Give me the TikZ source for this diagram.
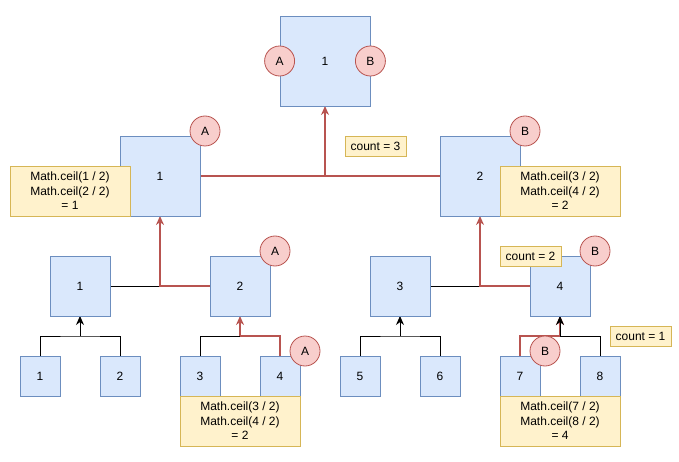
\documentclass[tikz,border=0pt]{standalone}
\usepackage{fontspec}
\setmainfont{Liberation Sans}
\usetikzlibrary{arrows.meta,positioning}
\definecolor{cellfill}{HTML}{DAE8FC}
\definecolor{cellline}{HTML}{6C8EBF}
\definecolor{notefill}{HTML}{FFF2CC}
\definecolor{noteline}{HTML}{D6B656}
\definecolor{markfill}{HTML}{F8CECC}
\definecolor{markline}{HTML}{B85450}

\begin{document}
\begin{tikzpicture}
[x=1pt, y=-1pt, font=\fontsize{12}{14.5}\selectfont,
% STYLES
% cells of the tree, one size per level
cell/.style={rectangle, draw=cellline, fill=cellfill, inner sep=0pt, line width=0.8pt},
rootcell/.style={cell, minimum size=90pt},
bigcell/.style={cell, minimum size=80pt},
midcell/.style={cell, minimum size=60pt},
leafcell/.style={cell, minimum size=40pt},
% the A / B markers
badge/.style={circle, draw=markline, fill=markfill, minimum size=30pt, inner sep=0pt, line width=0.8pt},
% yellow notes
note/.style={rectangle, draw=noteline, fill=notefill, inner sep=0pt, line width=0.8pt, align=center},
sumnote/.style={note, minimum width=120pt, minimum height=50pt},
countnote/.style={note, minimum width=61pt, minimum height=20pt},
% links
link/.style={line width=0.8pt, black},
hot/.style={line width=2pt, markline},
tip/.style={-{Stealth[length=9pt, width=8pt]}}]

\useasboundingbox (0,0) rectangle (679,462);

% Draw links
\coordinate (j1) at (80,336);
\coordinate (j2) at (240,336);
\coordinate (j3) at (400,336);
\coordinate (j4) at (560,336);

\draw[hot] (200,176) -- (440,176);
\draw[hot, tip] (325,176) -- (325,106);
\draw[link] (110,286) -- (160,286);
\draw[hot, tip] (210,286) -| (160,216);
\draw[link] (431,286) -- (480,286);
\draw[hot, tip] (530,286) -| (480,216);

\draw[link] (40,356) |- (j1) -| (120,356);
\draw[link, tip] (j1) -- (80,316);
\draw[link] (200,356) |- (j2);
\draw[hot] (280,356) |- (j2);
\draw[hot, tip] (j2) -- (240,316);
\draw[link] (360,356) |- (j3) -| (440,356);
\draw[link, tip] (j3) -- (400,316);
\draw[hot] (520,356) |- (j4);
\draw[hot, tip] (j4) -- (560,316);
\draw[link] (600,356) |- (j4);
\draw[link, tip] (j4) -- (560,316);

% Draw cells
\node[rootcell] (top) at (325,61) {1};
\node[bigcell] (l2a) at (160,176) {1};
\node[bigcell] (l2b) at (480,176) {2};
\node[midcell] (l3a) at (80,286) {1};
\node[midcell] (l3b) at (240,286) {2};
\node[midcell] (l3c) at (400,286) {3};
\node[midcell] (l3d) at (560,286) {4};
\node[leafcell] (n1) at (40,376) {1};
\node[leafcell] (n2) at (120,376) {2};
\node[leafcell] (n3) at (200,376) {3};
\node[leafcell] (n4) at (280,376) {4};
\node[leafcell] (n5) at (360,376) {5};
\node[leafcell] (n6) at (440,376) {6};
\node[leafcell] (n7) at (520,376) {7};
\node[leafcell] (n8) at (600,376) {8};

% Notes
\node[sumnote] (sum-l2a) at (70,191) {Math.ceil(1 / 2)\\Math.ceil(2 / 2)\\= 1};
\node[sumnote] (sum-l2b) at (560,191) {Math.ceil(3 / 2)\\Math.ceil(4 / 2)\\= 2};
\node[sumnote] (sum-n34) at (240,421) {Math.ceil(3 / 2)\\Math.ceil(4 / 2)\\= 2};
\node[sumnote] (sum-n78) at (560,421) {Math.ceil(7 / 2)\\Math.ceil(8 / 2)\\= 4};
\node[countnote] (count-3) at (375.5,146.5) {count = 3};
\node[countnote] (count-2) at (530.5,256.5) {count = 2};
\node[countnote] (count-1) at (640.5,336.5) {count = 1};

% Markers
\node[badge] (a-top) at (top.west) {A};
\node[badge] (b-top) at (top.east) {B};
\node[badge] (a-l2a) at (205,131) {A};
\node[badge] (b-l2b) at (525,131) {B};
\node[badge] (a-l3b) at (275,251) {A};
\node[badge] (b-l3d) at (595,251) {B};
\node[badge] (a-n4) at (305,351) {A};
\node[badge] (b-n7) at (545,351) {B};

\end{tikzpicture}
\end{document}
